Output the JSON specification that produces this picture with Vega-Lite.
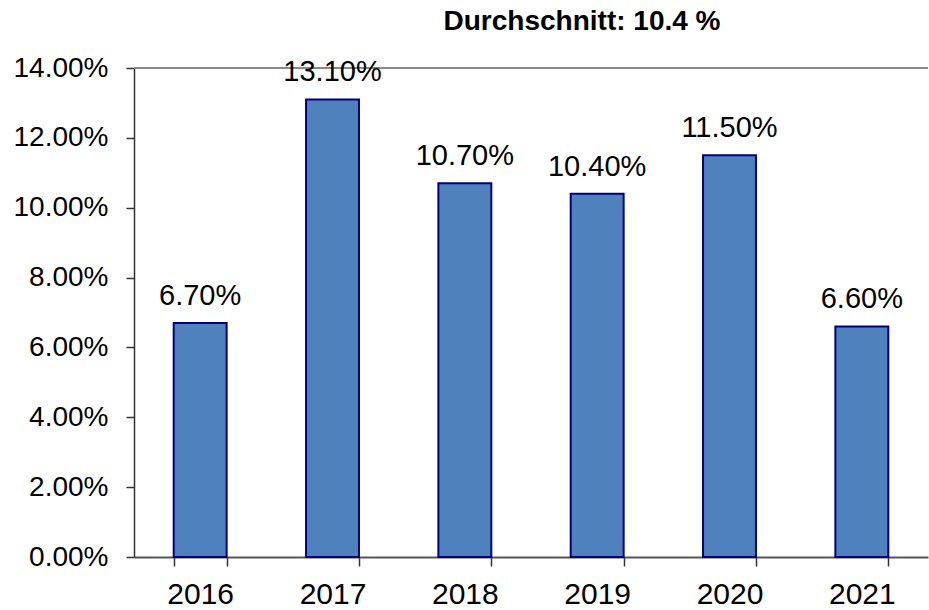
{
  "$schema": "https://vega.github.io/schema/vega-lite/v6.json",
  "width": 794,
  "height": 489,
  "autosize": {"type": "none"},
  "padding": {"left": 134, "top": 68, "right": 1, "bottom": 53},
  "background": "white",
  "config": {"view": {"stroke": null}, "font": "Liberation Sans"},
  "title": {"text": "Durchschnitt: 10.4 %", "fontSize": 28, "fontWeight": "bold", "font": "Liberation Sans", "color": "black", "anchor": "middle", "dx": 51, "offset": 18},
  "data": {"values": [
    {"year": "2016", "value": 0.067, "label": "6.70%"},
    {"year": "2017", "value": 0.131, "label": "13.10%"},
    {"year": "2018", "value": 0.107, "label": "10.70%"},
    {"year": "2019", "value": 0.104, "label": "10.40%"},
    {"year": "2020", "value": 0.115, "label": "11.50%"},
    {"year": "2021", "value": 0.066, "label": "6.60%"}
  ]},
  "encoding": {
    "x": {"field": "year", "type": "nominal", "sort": null,
      "scale": {"paddingInner": 0.6, "paddingOuter": 0.3},
      "axis": {"title": null, "labelAngle": 0, "labelFontSize": 30, "labelColor": "black", "labelPadding": 13,
        "tickBand": "extent", "tickSize": 9, "tickColor": "#333", "domainColor": "#555", "domainWidth": 2, "tickWidth": 1.5}},
    "y": {"field": "value", "type": "quantitative",
      "scale": {"domain": [0, 0.14], "nice": false},
      "axis": {"title": null, "format": ".2%", "values": [0, 0.02, 0.04, 0.06, 0.08, 0.1, 0.12, 0.14], "grid": false,
        "labelFontSize": 28, "labelColor": "black", "tickSize": 8, "labelPadding": 18, "tickColor": "#333", "domainColor": "#333", "domainWidth": 1.5, "tickWidth": 1.5}}
  },
  "layer": [
    {"mark": {"type": "rule", "color": "#888", "strokeWidth": 2}, "encoding": {"y": {"datum": 0.14}, "x": {"value": 0}, "x2": {"value": 794}}},
    {"mark": {"type": "bar", "color": "#4F81BD", "stroke": "#000080", "strokeWidth": 2}},
    {"mark": {"type": "text", "baseline": "alphabetic", "dy": -18, "fontSize": 29, "color": "black"}, "encoding": {"text": {"field": "label"}}}
  ]
}
